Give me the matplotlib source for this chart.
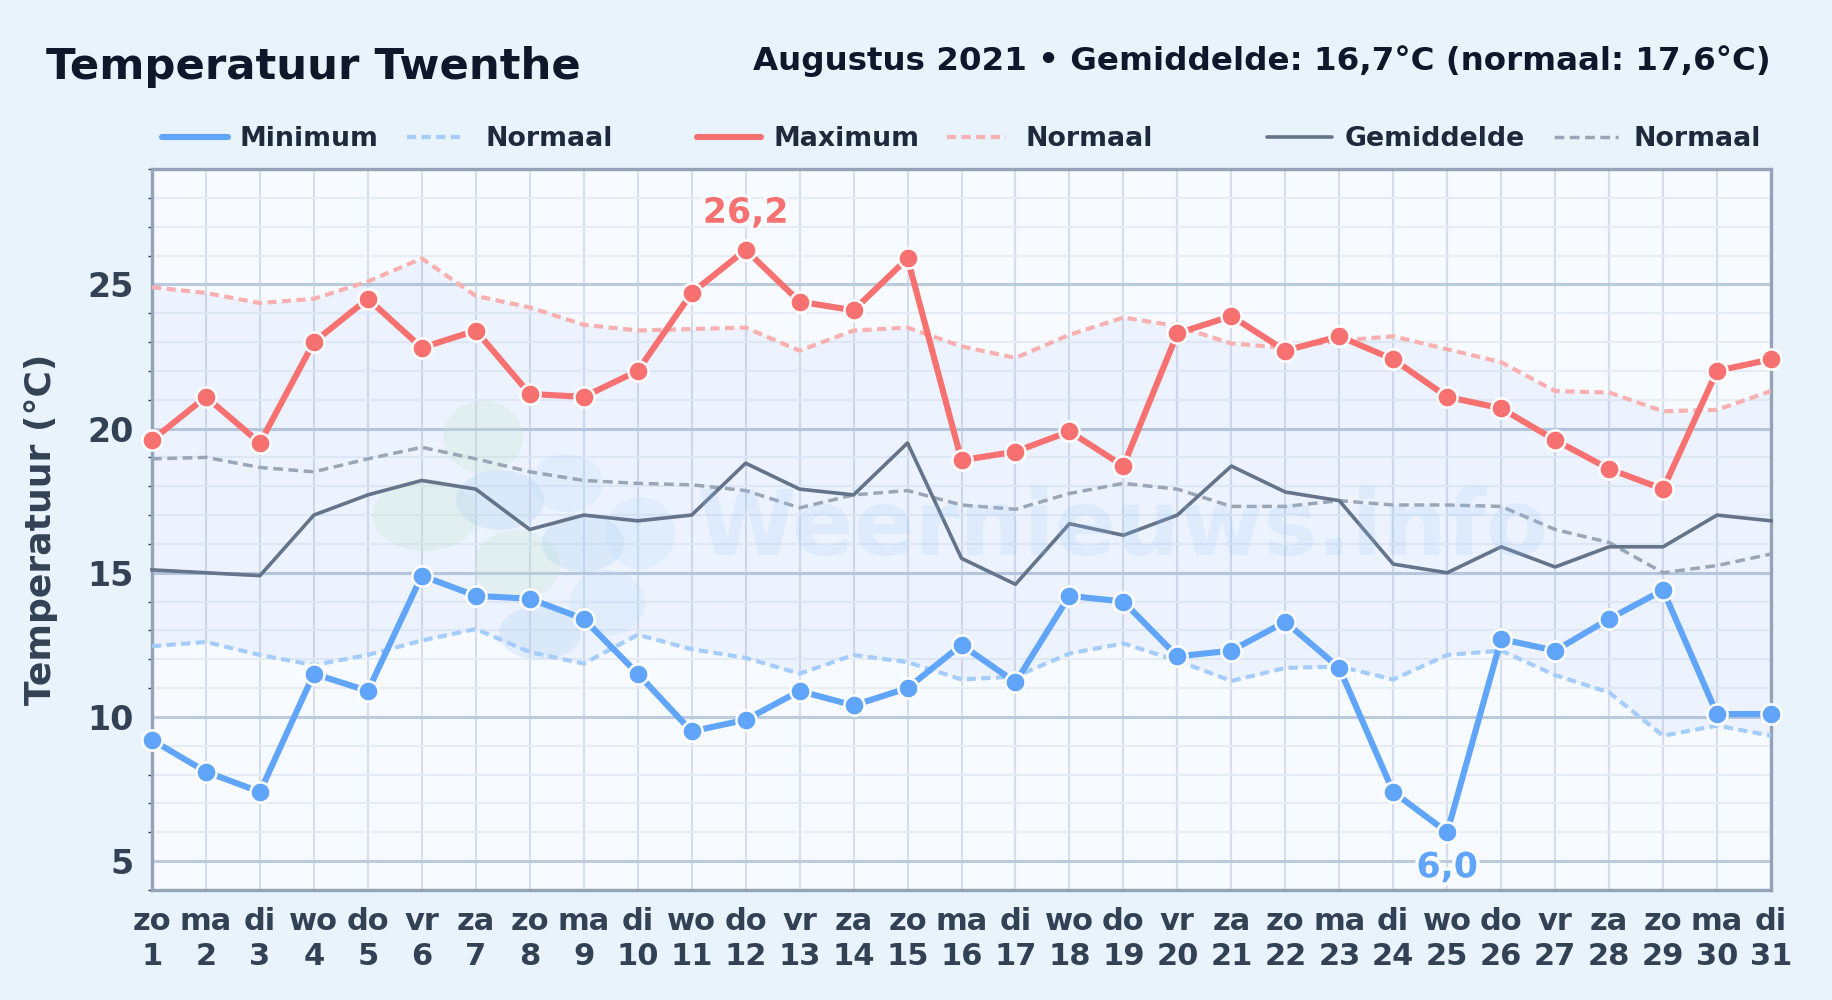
import matplotlib
matplotlib.use("Agg")
import matplotlib.pyplot as plt
import matplotlib.patheffects as pe
from matplotlib.lines import Line2D
from matplotlib.patches import Ellipse

days = list(range(1, 32))
weekdays = ["zo", "ma", "di", "wo", "do", "vr", "za"] * 4 + ["zo", "ma", "di"]

t_min = [9.2, 8.1, 7.4, 11.5, 10.9, 14.9, 14.2, 14.1, 13.4, 11.5, 9.5, 9.9, 10.9, 10.4, 11.0, 12.5,
         11.2, 14.2, 14.0, 12.1, 12.3, 13.3, 11.7, 7.4, 6.0, 12.7, 12.3, 13.4, 14.4, 10.1, 10.1]
t_max = [19.6, 21.1, 19.5, 23.0, 24.5, 22.8, 23.4, 21.2, 21.1, 22.0, 24.7, 26.2, 24.4, 24.1, 25.9, 18.9,
         19.2, 19.9, 18.7, 23.3, 23.9, 22.7, 23.2, 22.4, 21.1, 20.7, 19.6, 18.6, 17.9, 22.0, 22.4]
t_avg = [15.1, 15.0, 14.9, 17.0, 17.7, 18.2, 17.9, 16.5, 17.0, 16.8, 17.0, 18.8, 17.9, 17.7, 19.5, 15.5,
         14.6, 16.7, 16.3, 17.0, 18.7, 17.8, 17.5, 15.3, 15.0, 15.9, 15.2, 15.9, 15.9, 17.0, 16.8]
norm_min = [12.45, 12.6, 12.15, 11.8, 12.15, 12.65, 13.05, 12.25, 11.85, 12.85, 12.35, 12.05, 11.5, 12.15, 11.9, 11.3,
            11.4, 12.2, 12.55, 11.95, 11.25, 11.7, 11.75, 11.3, 12.15, 12.3, 11.45, 10.85, 9.35, 9.7, 9.35]
norm_max = [24.9, 24.7, 24.35, 24.5, 25.1, 25.9, 24.6, 24.2, 23.6, 23.4, 23.45, 23.5, 22.7, 23.4, 23.5, 22.85,
            22.45, 23.25, 23.85, 23.55, 22.95, 22.8, 23.05, 23.2, 22.75, 22.3, 21.3, 21.25, 20.6, 20.65, 21.3]
norm_avg = [18.95, 19.0, 18.65, 18.5, 18.95, 19.35, 18.95, 18.5, 18.2, 18.1, 18.05, 17.85, 17.25, 17.7, 17.85, 17.35,
            17.2, 17.75, 18.1, 17.9, 17.3, 17.3, 17.5, 17.35, 17.35, 17.3, 16.5, 16.05, 15.0, 15.25, 15.65]

BLUE = "#60a5fa"
RED = "#f87171"
GREY = "#64748b"
W, H = 1832, 1000


def fx(px):
    return px / W


def fy(py):
    return 1 - py / H


plt.rcParams["font.family"] = "DejaVu Sans"
plt.rcParams["font.weight"] = "bold"
plt.rcParams["axes.labelweight"] = "bold"

fig = plt.figure(figsize=(W / 100, H / 100), dpi=100, facecolor="#e8f3fc")
ax = fig.add_axes([fx(152), fy(890), fx(1771 - 152), (890 - 169) / H], facecolor="#f7faff")

ax.set_xlim(1, 31)
ax.set_ylim(4, 29)

# grid
ax.set_axisbelow(True)
ax.set_xticks(days)
ax.set_xticklabels([f"{w}\n{d}" for w, d in zip(weekdays, days)], fontsize=22, color="#334155", linespacing=1.28)
ax.set_yticks([5, 10, 15, 20, 25])
ax.set_yticks([y for y in range(4, 30) if y % 5], minor=True)
ax.tick_params(axis="y", which="major", labelsize=24, labelcolor="#334155", length=0, pad=13)
ax.tick_params(axis="y", which="minor", length=3, width=1, color="#334155")
ax.tick_params(axis="x", which="major", length=0, pad=12)
ax.grid(axis="x", color="#d5deea", lw=1.5)
ax.grid(axis="y", which="major", color="#bccbdc", lw=2.2)
ax.grid(axis="y", which="minor", color="#e6ecf4", lw=1.5)
for s in ax.spines.values():
    s.set_color("#94a3b8")
    s.set_linewidth(2.4)
ax.set_ylabel("Temperatuur (°C)", fontsize=26, color="#334155")
ax.yaxis.set_label_coords(-(152 - 58) / (1771 - 152), 0.5)

# band between the normals
ax.fill_between(days, norm_min, norm_max, color="#3b82f6", alpha=0.055, lw=0, zorder=1.5)

# watermark
blobs = [(483, 437, 80, 72, "#c4e6c8"), (425, 515, 105, 72, "#c4e6c8"), (517, 565, 86, 70, "#c4e6c8"),
         (500, 500, 88, 60, "#a9cdf0"), (583, 543, 82, 58, "#a9cdf0"), (540, 633, 82, 54, "#a9cdf0"),
         (607, 603, 76, 66, "#bcdcf8"), (640, 533, 70, 72, "#bcdcf8"), (567, 483, 72, 58, "#bcdcf8")]
for cx, cy, w, h, c in blobs:
    ax.add_patch(Ellipse((fx(cx), fy(cy)), w / W, h / H, transform=fig.transFigure,
                         fc=c, ec="none", alpha=0.26, zorder=1.6))
fig.text(fx(1122), fy(530), "Weernieuws.info", fontsize=65, color="#93c5fd", alpha=0.17,
         ha="center", va="center", zorder=1.7)

# normals
dash_a = (0, (2.2, 1.3))
dash_b = (0, (2.8, 1.6))
ax.plot(days, norm_min, color="#a5cdfb", lw=3, ls=dash_a, zorder=3)
ax.plot(days, norm_max, color="#f9b0b0", lw=3, ls=dash_a, zorder=3)
ax.plot(days, norm_avg, color="#9aa6b6", lw=2.5, ls=dash_b, zorder=3)

# main series
ax.plot(days, t_avg, color=GREY, lw=2.6, zorder=4, clip_on=False)
for vals, col in [(t_min, BLUE), (t_max, RED)]:
    ax.plot(days, vals, color=col, lw=4.4, marker="o", ms=14.5, mfc=col, mec="white", mew=1.8,
            zorder=5, clip_on=False)

halo = [pe.withStroke(linewidth=5, foreground="#f8fbff")]
ax.annotate("26,2", (12, 26.2), xytext=(0, 37), textcoords="offset pixels", ha="center", va="center",
            fontsize=25, color=RED, path_effects=halo, zorder=6)
ax.annotate("6,0", (25, 6.0), xytext=(0, -35), textcoords="offset pixels", ha="center", va="center",
            fontsize=25, color=BLUE, path_effects=halo, zorder=6)

# title
fig.text(fx(46), fy(67), "Temperatuur Twenthe", fontsize=31.2, color="#0f172a", ha="left", va="center")
fig.text(fx(1771), fy(61), "Augustus 2021 • Gemiddelde: 16,7°C (normaal: 17,6°C)", fontsize=23.4,
         color="#0f172a", ha="right", va="center")

# legend
legend_items = [("Minimum", BLUE, 4.4, "-", 162, 228, 240),
                ("Normaal", "#a5cdfb", 3, dash_a, 407, 465, 486),
                ("Maximum", RED, 4.4, "-", 697, 761, 773),
                ("Normaal", "#f9b0b0", 3, dash_a, 947, 1006, 1026),
                ("Gemiddelde", GREY, 2.6, "-", 1267, 1332, 1345),
                ("Normaal", "#9aa6b6", 2.5, dash_b, 1554, 1618, 1633)]
for label, col, lw, ls, x0, x1, tx in legend_items:
    fig.add_artist(Line2D([fx(x0), fx(x1)], [fy(137), fy(137)], color=col, lw=lw, ls=ls,
                          solid_capstyle="round"))
    fig.text(fx(tx), fy(139), label, fontsize=19.3, color="#1e293b", ha="left", va="center")

fig.savefig("out.png", dpi=100, facecolor=fig.get_facecolor())
